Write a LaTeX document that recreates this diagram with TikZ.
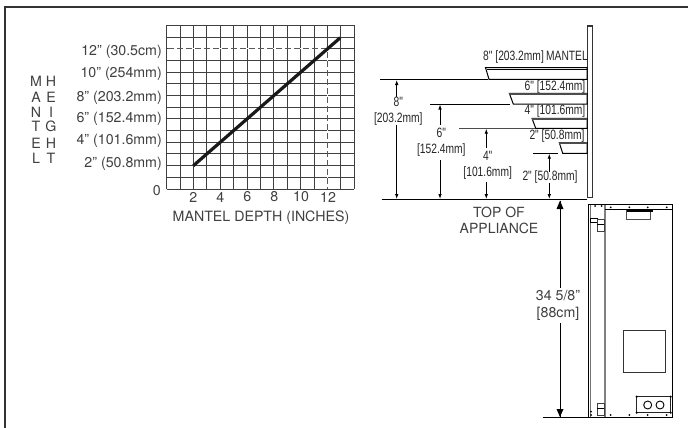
\documentclass[tikz,border=0pt]{standalone}
\usepackage{fontspec}
\setmainfont{TeX Gyre Heros}
\newfontfamily\narrowf[FakeStretch=0.76]{Liberation Sans}
\usetikzlibrary{arrows.meta}
\tikzset{
 x=1pt,y=-1pt,
 gridl/.style={line width=0.9pt,black!75},
 lab/.style={font=\fontsize{14.2}{16}\selectfont,text=black!75,inner sep=0pt},
 nar/.style={font=\narrowf\fontsize{13.5}{16}\selectfont,text=black!85,inner sep=0pt,align=center},
 dim/.style={line width=0.9pt,black,-{Latex[length=5pt,width=3.6pt]}},
 shelf/.style={line width=1pt,black},
 shelfband/.style={line width=1.8pt,black!70},
}
\begin{document}
\begin{tikzpicture}
\useasboundingbox (0,0) rectangle (688,428);
\fill[white] (0,0) rectangle (688,428);
\draw[line width=2pt,black!80] (4.7,428) -- (4.7,6.7) -- (688,6.7);
% grid
\foreach \i in {0,...,14}{
 \draw[gridl] ({166.7+\i*13.4},25.3) -- ({166.7+\i*13.4},189);
 \draw[gridl] (166.7,{25.3+\i*11.69}) -- (354.3,{25.3+\i*11.69});
}
\coordinate (ds) at (168,49);
\coordinate (dc) at (327,49);
\coordinate (de) at (327,189);
\draw[line width=1pt,white] (ds)--(dc)--(de);
\draw[line width=1pt,black!65,dash pattern=on 6pt off 3pt] (ds)--(dc)--(de);
\coordinate (m0) at (193.3,165.7);
\coordinate (m1) at (340.3,37.7);
\draw[line width=3.2pt,black!90] (m0)--(m1);
\foreach \y/\t in {52/{12" (30.5cm)},74/{10" (254mm)},97.5/{8" (203.2mm)},118.5/{6" (152.4mm)},141/{4" (101.6mm)},164/{2" (50.8mm)}}
 \node[lab,anchor=east] at (162,\y) {\t};
\node[lab,anchor=east] at (161,191) {0};
\foreach \x/\t in {193.3/2,220.3/4,247.3/6,274.3/8,301/10,328/12}
 \node[lab] at (\x,197) {\t};
\node[lab] (dt) at (261,218) {MANTEL DEPTH (INCHES)};
\foreach \y/\a/\b in {81/M/H,97/A/E,112/N/I,126/T/G,143/E/H,158/L/T}{
 \node[lab] at (36,\y) {\a};
 \node[lab] at (51,\y) {\b};
}
% wall
\draw[line width=1.2pt,black!80] (587.7,26) -- (587.7,197.5) -- (592.7,197.5) -- (592.7,26) -- cycle;
% top of appliance
\coordinate (t0) at (381.7,199.3);
\coordinate (t1) at (587,199.3);
\draw[line width=1pt,black] (t0)--(t1);
\node[lab,align=center,font=\fontsize{14}{15.5}\selectfont] at (499,220.5) {TOP OF\\APPLIANCE};
% shelves
\draw[shelf] (485.5,67.7) -- (587,67.7) -- (587,79.3) -- (489,79.3) -- cycle;
\draw[line width=1pt] (486.5,70) -- (587,70);
\draw[shelf] (509.3,93.3) -- (587,93.3) -- (587,104) -- (513.3,104) -- cycle;
\draw[shelfband] (509.3,93.8) -- (587,93.8);
\draw[shelf] (532,118.3) -- (587,118.3) -- (587,128.3) -- (535.7,128.3) -- cycle;
\draw[shelfband] (532,118.8) -- (587,118.8);
\draw[shelf] (559.3,142.7) -- (587,142.7) -- (587,153.3) -- (562.7,153.3) -- cycle;
\draw[shelfband] (559.3,143.2) -- (587,143.2);
% extension lines
\coordinate (e8) at (380,80);
\coordinate (e6) at (430,104.3);
\coordinate (e4) at (459.3,128.7);
\coordinate (e2) at (533,153.7);
\draw[line width=1pt] (e8) -- (488.3,80);
\draw[line width=1pt] (e6) -- (510,104.3);
\draw[line width=1pt,black!70] (e4) -- (535,128.7);
\draw[line width=1pt] (e2) -- (557.7,153.7);
% dims
\draw[dim] (396.7,96.7) -- (396.7,80);
\draw[dim] (396.7,125) -- (396.7,199);
\draw[dim] (440,125) -- (440,104.5);
\draw[dim] (440,160) -- (440,199);
\draw[dim] (486.3,148) -- (486.3,128.7);
\draw[dim] (486.3,181.7) -- (486.3,199);
\draw[dim] (549.3,171.7) -- (549.3,153.7);
\draw[dim] (549.3,183.3) -- (549.3,199);
\node[nar] at (398.3,111) {8"\\{[203.2mm]}};
\node[nar] at (441.3,142.5) {6"\\{[152.4mm]}};
\node[nar] at (487.7,165) {4"\\{[101.6mm]}};
\node[nar] at (550,177) {2" [50.8mm]};
\node[nar] at (535.5,57.3) {8" [203.2mm]\,MANTEL};
\node[nar] at (555,87.3) {6" [152.4mm]};
\node[nar] at (555,111) {4" [101.6mm]};
\node[nar] at (557,136) {2" [50.8mm]};
% appliance
\draw[line width=1.5pt] (588.3,204) -- (588.3,417.3);
\draw[line width=1.3pt,black!55] (590.3,205) -- (590.3,417);
\draw[line width=1.5pt,black!50] (605,205) -- (605,417);
\draw[line width=1.6pt] (672.3,204.3) -- (672.3,417.3);
\draw[line width=1pt] (587.5,204.5) -- (673,204.5);
\draw[line width=1pt] (605,209.3) -- (672,209.3);
\draw[line width=0.9pt,black!70] (626.7,210) rectangle (650.7,219.3);
\draw[line width=1.5pt] (627,211) -- (652.5,211);
\draw[line width=0.9pt,black!80] (623.3,330.7) rectangle (665,372.3);
\draw[line width=1.1pt,black!85] (636.7,396.7) rectangle (670.7,412.7);
\draw[line width=0.9pt] (647.7,405) circle (4);
\draw[line width=0.9pt] (660,405) circle (4);
\draw[line width=0.9pt] (590,218.3) rectangle (597.3,222.3);
\draw[line width=0.9pt,black!75] (597.3,219.3) rectangle (604.3,231.3);
\draw[line width=0.9pt] (597.3,224.5) -- (604.3,224.5);
\draw[line width=0.9pt,black!75] (597.3,403.3) rectangle (604.3,415.3);
\draw[line width=0.9pt] (597.3,408.5) -- (604.3,408.5);
\foreach \p in {595,601.7}
 \fill (\p,206) circle (1);
\foreach \p in {610.7,629.3,647.7,666.7}
 \fill (\p,207.3) circle (1);
\foreach \p in {591,610.7,629.3,647.7,666.7}
 \fill (\p,415) circle (1);
\fill (591,411.7) circle (1);
\foreach \p/\q in {636.7/396.7,670.7/396.7,636.7/412.7,670.7/412.7}
 \fill (\p,\q) circle (1.2);
% height dim
\coordinate (h0) at (560,200.7);
\coordinate (h1) at (560,417);
\draw[line width=1pt] (h0) -- (560,288);
\draw[line width=1pt] (560,323) -- (h1);
\fill[black] (h0) -- (556.5,209) -- (563.5,209) -- cycle;
\fill[black] (h1) -- (556.5,409) -- (563.5,409) -- cycle;
\draw[line width=1.1pt] (542.7,417.3) -- (673,417.3);
\node[lab,align=center,font=\fontsize{14.2}{17.5}\selectfont] at (558,305.5) {34 5/8"\\{[88cm]}};
\end{tikzpicture}
\end{document}
